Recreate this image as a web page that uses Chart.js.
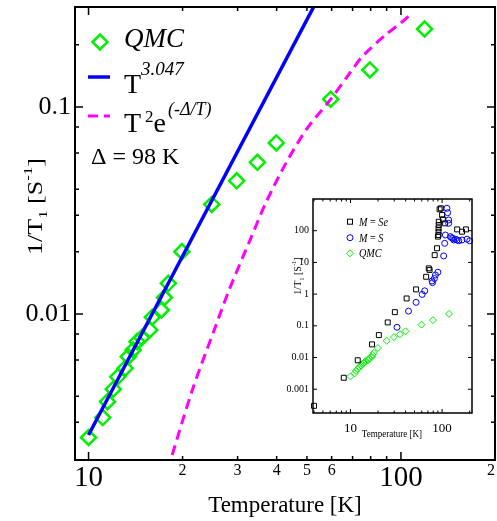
<!DOCTYPE html>
<html><head><meta charset="utf-8">
<script src="https://cdn.jsdelivr.net/npm/chart.js@4.4.0/dist/chart.umd.min.js"></script>
<style>
html,body{margin:0;padding:0;background:#fff;}
#wrap{position:relative;width:497px;height:521px;overflow:hidden;}
#main{position:absolute;left:0;top:0;}
#inset{position:absolute;left:270px;top:190px;}
</style></head><body>
<div id="wrap"><canvas id="main" width="497" height="521"></canvas><canvas id="inset" width="220" height="255"></canvas></div>
<script>
// ---------- main panel data ----------
const qmcTemp = [10, 11.1, 11.5, 12, 12.4, 13.1, 13.4, 13.9, 14.3, 14.8, 15.7, 16, 17.1, 17.5, 18, 19.9, 24.8, 29.8, 34.7, 39.9, 59.6, 79.5, 119];
const qmcRate = [0.00253, 0.00316, 0.00377, 0.00433, 0.00497, 0.00547, 0.00622, 0.0067, 0.00735, 0.00768, 0.00837, 0.00964, 0.01045, 0.012, 0.01406, 0.02, 0.0338, 0.044, 0.054, 0.067, 0.109, 0.151, 0.238];
const powerTemp = [10, 55];
const powerRate = [0.0026, 0.347];
const gapTemp = [17.9, 21.5, 25.6, 28.2, 32.7, 36.9, 42.8, 50, 59.6, 68.2, 75.2, 89.3, 101, 108.7];
const gapRate = [0.00176, 0.0043, 0.00885, 0.0131, 0.0223, 0.0343, 0.0534, 0.0785, 0.109, 0.144, 0.175, 0.223, 0.258, 0.285];
const xTickValues = [9.05, 10, 20, 30, 40, 50, 60, 70, 80, 90, 100, 200];
const xTickLabels = ['', '10', '2', '3', '4', '5', '6', '', '', '', '100', '2'];
const xMajor = [10, 100];
const yTickValues = [0.003, 0.004, 0.006, 0.008, 0.01, 0.02, 0.03, 0.04, 0.06, 0.08, 0.1, 0.2];
const yTickLabels = ['', '', '', '', '0.01', '', '', '', '', '', '0.1', ''];
const yMajor = [0.01, 0.1];

// ---------- inset data ----------
const seTemp = [4, 8.45, 12, 17.2, 20.4, 25.5, 30.5, 41, 52, 67, 71.5, 73, 83, 88, 90, 91.5, 91.5, 91.5, 92, 92, 94, 97, 100, 102, 108, 146, 165, 182];
const seRate = [0.0003, 0.0023, 0.0082, 0.026, 0.051, 0.128, 0.27, 0.73, 1.41, 3.52, 6.5, 5.8, 17, 28, 65, 73, 93, 119, 151, 192, 474, 510, 313, 229, 171, 110, 93, 110];
const sTemp = [32.2, 43, 52, 60.6, 64.6, 77.7, 78.6, 82.4, 84.6, 90, 104, 106.7, 108.6, 113, 115, 118, 118, 123, 127, 131, 134, 140, 146, 152, 165, 187, 200];
const sRate = [0.09, 0.29, 0.55, 0.98, 1.27, 2.6, 2.3, 3.1, 4.0, 4.9, 16, 40, 73, 510, 370, 218, 171, 65, 60, 57, 51, 54, 51, 48, 51, 54, 48];
const insetXTicks = [4, 5, 6, 7, 8, 9, 10, 20, 30, 40, 50, 60, 70, 80, 90, 100, 200];
const insetXLabels = ['', '', '', '', '', '', '10', '', '', '', '', '', '', '', '', '100', ''];
const insetYTicks = [0.001, 0.01, 0.1, 1, 10, 100];
const insetYLabels = ['0.001', '0.01', '0.1', '1', '10', '100'];

const SERIF = '"Liberation Serif", "Times New Roman", serif';
const GREEN = '#00f000', BLUE = '#0000ff', MAGENTA = '#ff00ff';
const pts = (xs, ys) => xs.map((x, i) => ({x: x, y: ys[i]}));
const noPad = s => { s.paddingLeft = 0; s.paddingRight = 0; s.paddingTop = 0; s.paddingBottom = 0; };

function rich(ctx, x, y, segs, o) {
  o = o || {};
  ctx.save();
  const fontOf = s => (s[2] ? 'italic ' : '') + s[1] + 'px ' + SERIF;
  const widths = segs.map(s => { ctx.font = fontOf(s); return ctx.measureText(s[0]).width + (s[4] || 0); });
  const total = widths.reduce((a, b) => a + b, 0);
  ctx.translate(x, y);
  if (o.rotate) ctx.rotate(o.rotate);
  if (o.sx) ctx.scale(o.sx, 1);
  let cx = o.align === 'center' ? -total / 2 : 0;
  ctx.textBaseline = 'alphabetic';
  ctx.textAlign = 'left';
  ctx.fillStyle = '#000';
  segs.forEach((s, i) => { ctx.font = fontOf(s); ctx.fillText(s[0], cx, s[3] || 0); cx += widths[i]; });
  ctx.restore();
}

function frameTicks(chart, xv, yv, xMaj, yMaj, lMaj, lMin, lw, fw) {
  const ctx = chart.ctx, a = chart.chartArea, sx = chart.scales.x, sy = chart.scales.y;
  ctx.save();
  ctx.strokeStyle = '#000';
  ctx.lineWidth = lw;
  ctx.beginPath();
  xv.forEach(v => {
    const p = sx.getPixelForValue(v);
    if (p < a.left + 1 || p > a.right - 1) return;
    const L = xMaj.includes(v) ? lMaj : lMin;
    ctx.moveTo(p, a.bottom); ctx.lineTo(p, a.bottom - L);
    ctx.moveTo(p, a.top); ctx.lineTo(p, a.top + L);
  });
  yv.forEach(v => {
    const p = sy.getPixelForValue(v);
    if (p < a.top + 1 || p > a.bottom - 1) return;
    const L = yMaj.includes(v) ? lMaj : lMin;
    ctx.moveTo(a.left, p); ctx.lineTo(a.left + L, p);
    ctx.moveTo(a.right, p); ctx.lineTo(a.right - L, p);
  });
  ctx.stroke();
  ctx.lineWidth = fw;
  ctx.strokeRect(a.left, a.top, a.right - a.left, a.bottom - a.top);
  ctx.restore();
}

function diamond(ctx, x, y, r, color, lw) {
  ctx.save(); ctx.strokeStyle = color; ctx.lineWidth = lw;
  ctx.beginPath(); ctx.moveTo(x - r, y); ctx.lineTo(x, y - r); ctx.lineTo(x + r, y); ctx.lineTo(x, y + r); ctx.closePath(); ctx.stroke();
  ctx.restore();
}

const mainDeco = {
  id: 'mainDeco',
  afterDraw(chart) {
    const ctx = chart.ctx;
    frameTicks(chart, xTickValues, yTickValues, xMajor, yMajor, 8, 4, 1.5, 2);
    // legend
    diamond(ctx, 100, 42, 7.5, GREEN, 2.5);
    rich(ctx, 124, 47, [['QMC', 27, true]]);
    ctx.save(); ctx.strokeStyle = BLUE; ctx.lineWidth = 3.5;
    ctx.beginPath(); ctx.moveTo(88, 77); ctx.lineTo(110, 77); ctx.stroke(); ctx.restore();
    rich(ctx, 124, 93, [['T', 28, false, 0, 0], ['3.047', 19, true, -18]]);
    ctx.save(); ctx.strokeStyle = MAGENTA; ctx.lineWidth = 3; ctx.setLineDash([10, 6]);
    ctx.beginPath(); ctx.moveTo(88, 116); ctx.lineTo(110, 116); ctx.stroke(); ctx.restore();
    rich(ctx, 124, 132, [['T', 28, false, 0, 4], ['2', 17, false, -10, 0], ['e', 28, false, 0, 2], ['(-\u0394/T)', 18, true, -17]]);
    rich(ctx, 91, 164, [['\u0394 = 98 K', 24, false]]);
    // axis titles
    rich(ctx, 285, 512, [['Temperature [K]', 23, false]], {align: 'center'});
    rich(ctx, 42, 206.5, [['1/T', 20, false], ['1', 13, false, 5, 5], ['[S', 20, false], ['-1', 13, false, -10], [']', 20, false]], {align: 'center', rotate: -Math.PI / 2, sx: 1.3});
  }
};

new Chart(document.getElementById('main'), {
  type: 'scatter',
  data: {
    datasets: [
      {data: pts(powerTemp, powerRate), showLine: true, borderColor: BLUE, borderWidth: 3.5, pointRadius: 0, fill: false},
      {data: pts(gapTemp, gapRate), showLine: true, borderColor: MAGENTA, borderWidth: 3, borderDash: [10, 6], pointRadius: 0, tension: 0.3, fill: false},
      {data: pts(qmcTemp, qmcRate), pointStyle: 'rectRot', pointRadius: 7.5, borderColor: GREEN, borderWidth: 2.5, backgroundColor: 'rgba(0,0,0,0)', showLine: false}
    ]
  },
  options: {
    responsive: false, animation: false, devicePixelRatio: 1,
    layout: {padding: {left: 0, top: 7, right: 2, bottom: 0}, autoPadding: false},
    plugins: {legend: {display: false}, tooltip: {enabled: false}},
    scales: {
      x: {
        type: 'logarithmic', min: 9.05, max: 200, position: 'bottom',
        grid: {display: false, drawTicks: false}, border: {display: false},
        afterBuildTicks: s => { s.ticks = xTickValues.map(v => ({value: v})); },
        afterFit: s => { s.height = 61; noPad(s); },
        ticks: {
          autoSkip: false, maxRotation: 0, minRotation: 0, padding: 1, align: 'inner', color: '#000',
          callback: v => { const i = xTickValues.indexOf(v); return i >= 0 ? xTickLabels[i] : ''; },
          font: c => ({family: SERIF, size: (c.tick && xMajor.includes(c.tick.value)) ? 29 : 16})
        }
      },
      y: {
        type: 'logarithmic', min: 0.00197, max: 0.304, position: 'left',
        grid: {display: false, drawTicks: false}, border: {display: false},
        afterBuildTicks: s => { s.ticks = yTickValues.map(v => ({value: v})); },
        afterFit: s => { s.width = 75; noPad(s); },
        ticks: {
          autoSkip: false, padding: 4, color: '#000',
          callback: v => { const i = yTickValues.indexOf(v); return i >= 0 ? yTickLabels[i] : ''; },
          font: {family: SERIF, size: 26}
        }
      }
    }
  },
  plugins: [mainDeco]
});

// ---------- inset ----------
const insetDeco = {
  id: 'insetDeco',
  afterDraw(chart) {
    const ctx = chart.ctx;
    frameTicks(chart, insetXTicks, insetYTicks, [10, 100], insetYTicks, 4, 2.5, 1, 1.5);
    ctx.save(); ctx.strokeStyle = '#000'; ctx.lineWidth = 1; ctx.strokeRect(80 - 2.5, 31.7 - 2.5, 5, 5); ctx.restore();
    ctx.save(); ctx.strokeStyle = BLUE; ctx.lineWidth = 1; ctx.beginPath(); ctx.arc(80, 47.7, 3, 0, Math.PI * 2); ctx.stroke(); ctx.restore();
    diamond(ctx, 80, 63.3, 3.5, GREEN, 1);
    rich(ctx, 89, 35.7, [['M', 12, true], [' = ', 12, false], ['Se', 12, true]], {sx: 0.85});
    rich(ctx, 89, 51.7, [['M', 12, true], [' = ', 12, false], ['S', 12, true]], {sx: 0.85});
    rich(ctx, 89, 67.3, [['QMC', 12, true]], {sx: 0.85});
    rich(ctx, 122, 246.5, [['Temperature [K]', 9.5, false]], {align: 'center', sx: 0.95});
    rich(ctx, 31, 86, [['1/T', 10, false], ['1', 6.5, false, 2.5, 2.5], ['[S', 10, false], ['-1', 6.5, false, -5], [']', 10, false]], {align: 'center', rotate: -Math.PI / 2});
  }
};

new Chart(document.getElementById('inset'), {
  type: 'scatter',
  data: {
    datasets: [
      {data: pts(sTemp, sRate), pointStyle: 'circle', pointRadius: 3, borderColor: BLUE, borderWidth: 1, backgroundColor: 'rgba(0,0,0,0)', clip: false},
      {data: pts(seTemp, seRate), pointStyle: 'rect', pointRadius: 3.5, borderColor: '#000', borderWidth: 1, backgroundColor: 'rgba(0,0,0,0)', clip: false},
      {data: pts(qmcTemp, qmcRate), pointStyle: 'rectRot', pointRadius: 3.5, borderColor: GREEN, borderWidth: 1, backgroundColor: 'rgba(0,0,0,0)', clip: false}
    ]
  },
  options: {
    responsive: false, animation: false, devicePixelRatio: 1,
    layout: {padding: {left: 0, top: 9, right: 18, bottom: 0}, autoPadding: false},
    plugins: {legend: {display: false}, tooltip: {enabled: false}},
    scales: {
      x: {
        type: 'logarithmic', min: 3.9, max: 212, position: 'bottom',
        grid: {display: false, drawTicks: false}, border: {display: false},
        afterBuildTicks: s => { s.ticks = insetXTicks.map(v => ({value: v})); },
        afterFit: s => { s.height = 32; noPad(s); },
        ticks: {
          autoSkip: false, maxRotation: 0, minRotation: 0, padding: 8, color: '#000',
          callback: v => { const i = insetXTicks.indexOf(v); return i >= 0 ? insetXLabels[i] : ''; },
          font: {family: SERIF, size: 13}
        }
      },
      y: {
        type: 'logarithmic', min: 0.000178, max: 1000, position: 'left',
        grid: {display: false, drawTicks: false}, border: {display: false},
        afterBuildTicks: s => { s.ticks = insetYTicks.map(v => ({value: v})); },
        afterFit: s => { s.width = 43; noPad(s); },
        ticks: {
          autoSkip: false, padding: 4, color: '#000',
          callback: v => { const i = insetYTicks.indexOf(v); return i >= 0 ? insetYLabels[i] : ''; },
          font: {family: SERIF, size: 10}
        }
      }
    }
  },
  plugins: [insetDeco]
});
</script>
</body></html>
